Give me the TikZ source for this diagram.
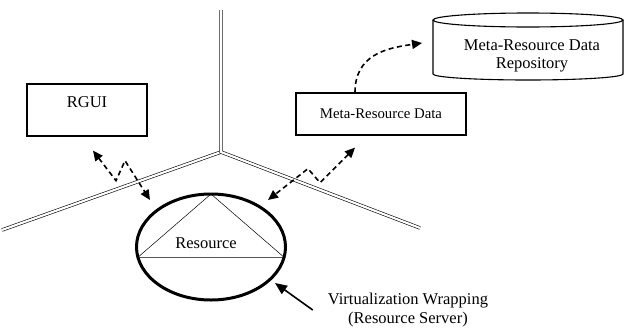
\documentclass[tikz,border=0pt]{standalone}
\usepackage{fontspec}
\setmainfont{Liberation Serif}
\usetikzlibrary{arrows.meta,shapes.geometric}

\begin{document}
\begin{tikzpicture}[
  x=1pt, y=-1pt,
  box/.style={rectangle, draw, line width=1.3pt, inner sep=0pt},
  wall/.style={double, double distance=2.2pt, line width=0.6pt},
  zz/.style={{Triangle[length=10pt,width=9pt]}-{Triangle[length=10pt,width=9pt]}, line width=1.6pt, dash pattern=on 5pt off 3.5pt},
  curv/.style={-{Triangle[length=10pt,width=9pt]}, line width=1.6pt, dash pattern=on 5pt off 3.5pt},
  arr/.style={-{Triangle[length=12pt,width=10pt]}, line width=1.6pt},
  txt/.style={font=\fontsize{16.5}{19}\selectfont, align=center, inner sep=0pt}
]
  \useasboundingbox (0,0) rectangle (628,335);

  % walls
  \draw[wall] (221,152) -- (2,230);
  \draw[wall] (221,10) -- (221,152) -- (420,228);

  \node[box, minimum width=120, minimum height=52] (rgui) at (87,110) {};
  \node[txt] (rguilbl) at ([yshift=-19pt]rgui.north) {RGUI};
  \node[box, minimum width=170, minimum height=42, font=\fontsize{14.8}{17}\selectfont] (meta) at (381,114) {Meta-Resource Data};

  % repository
  \draw[line width=1.1pt] (528,20) ellipse[x radius=95, y radius=7];
  \draw[line width=1.1pt] (433,20) -- (433,74) arc[start angle=180, end angle=0, x radius=95, y radius=6] -- (623,20);
  \node[txt, font=\fontsize{16.5}{18}\selectfont] (repo) at (532,56) {Meta-Resource Data\\Repository};
  \coordinate (repoin) at (422,43);

  % resource
  \node[ellipse, draw, line width=3pt, minimum width=149, minimum height=106, inner sep=0pt, outer sep=0pt] (res) at (211,247) {};
  \draw[line width=0.5pt] (res.north) -- (res.188) -- (res.352) -- cycle;
  \node[txt] (reslbl) at (206,243) {Resource};

  \node[txt] (wrap) at (408,310) {Virtualization Wrapping\\(Resource Server)};

  \draw[zz] ([shift={(6,14)}]rgui.south) -- ++(23,30) -- ++(9,-20) -- ([shift={(-61,-47)}]res.center);
  \draw[zz] ([shift={(-26,12)}]meta.south) -- ++(-35,35) -- ++(-12,-14) -- ([shift={(57,-47)}]res.center);
  \draw[curv] ([xshift=-26pt]meta.north) .. controls +(0,-38) and +(-35,5) .. (repoin);
  \draw[arr] ([xshift=-15pt]wrap.west) -- ([shift={(64,36)}]res.center);
\end{tikzpicture}
\end{document}
